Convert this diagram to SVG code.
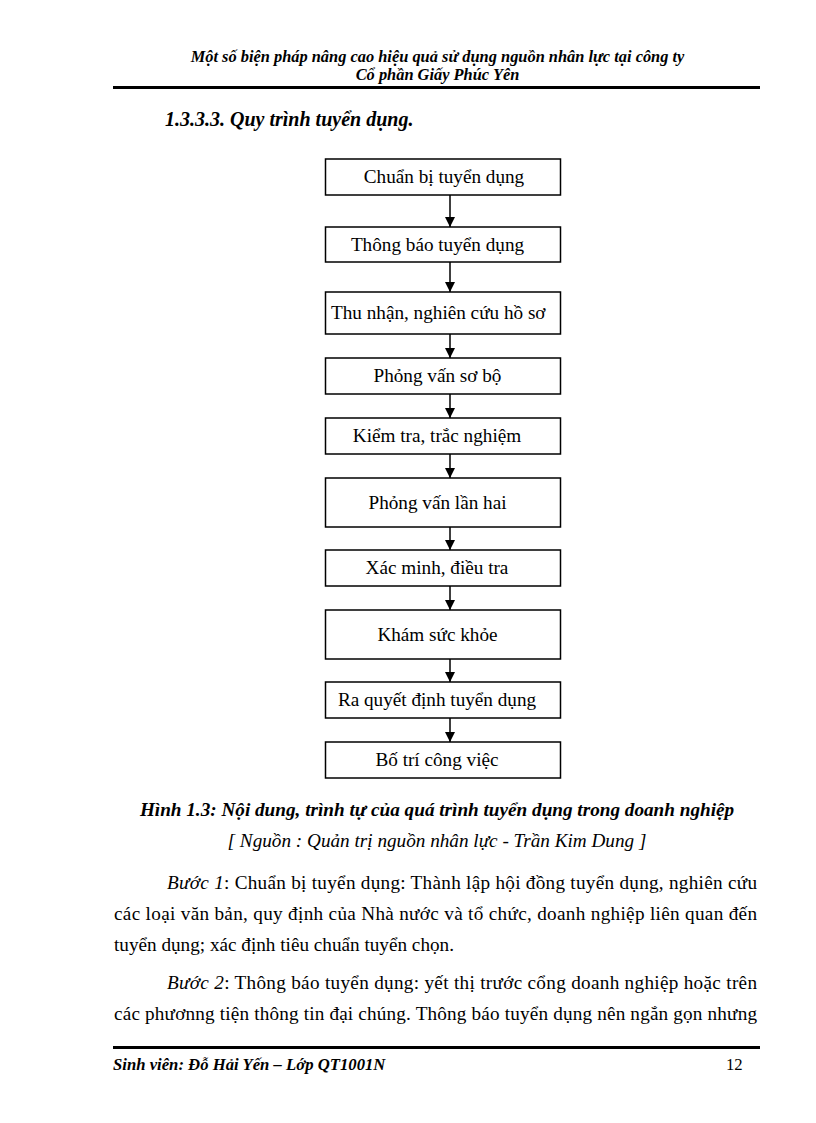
<svg xmlns="http://www.w3.org/2000/svg" width="816" height="1123" viewBox="0 0 816 1123">
<defs>
<style>
.t{font-family:"Liberation Serif","Times New Roman",serif;fill:#000}
.hdr{font-size:16.4px;font-weight:bold;font-style:italic}
.h{font-size:19.2px;font-weight:bold;font-style:italic}
.b{font-size:19.2px}
.i{font-style:italic}
.box{fill:#fff;stroke:#000;stroke-width:1.5}
.c{stroke:#000;stroke-width:1.5;fill:none}
.rule{stroke:#000;stroke-width:3}
</style>
<marker id="ah" viewBox="0 0 10 10" refX="10" refY="5" markerWidth="10" markerHeight="10" markerUnits="userSpaceOnUse" orient="auto">
<path d="M0,0 L10,5 L0,10 Z" fill="#000"/>
</marker>
</defs>
<rect width="816" height="1123" fill="#fff"/>
<!-- header -->
<text class="t hdr" x="437.5" y="62" text-anchor="middle">Một số biện pháp nâng cao hiệu quả sử dụng nguồn nhân lực tại công ty</text>
<text class="t hdr" x="437.5" y="80" text-anchor="middle">Cổ phần Giấy Phúc Yên</text>
<line class="rule" x1="113" y1="87.5" x2="760" y2="87.5"/>
<text class="t h" x="165" y="126" style="font-size:20px">1.3.3.3. Quy trình tuyển dụng.</text>

<!-- connectors -->
<g id="connectors">
<line class="c" x1="450" y1="195" x2="450" y2="227" marker-end="url(#ah)"/>
<line class="c" x1="450" y1="262" x2="450" y2="292" marker-end="url(#ah)"/>
<line class="c" x1="450" y1="334" x2="450" y2="358" marker-end="url(#ah)"/>
<line class="c" x1="450" y1="394" x2="450" y2="418" marker-end="url(#ah)"/>
<line class="c" x1="450" y1="454" x2="450" y2="478" marker-end="url(#ah)"/>
<line class="c" x1="450" y1="527" x2="450" y2="550" marker-end="url(#ah)"/>
<line class="c" x1="450" y1="586" x2="450" y2="610" marker-end="url(#ah)"/>
<line class="c" x1="450" y1="659" x2="450" y2="682" marker-end="url(#ah)"/>
<line class="c" x1="450" y1="718" x2="450" y2="742" marker-end="url(#ah)"/>
</g>

<!-- nodes -->
<g id="n1"><rect class="box" x="325.5" y="159" width="235" height="36"/><text class="t b" x="444" y="183" text-anchor="middle">Chuẩn bị tuyển dụng</text></g>
<g id="n2"><rect class="box" x="325.5" y="227" width="235" height="35"/><text class="t b" x="437.5" y="250.5" text-anchor="middle">Thông báo tuyển dụng</text></g>
<g id="n3"><rect class="box" x="325.5" y="292" width="235" height="42"/><text class="t b" x="331" y="319">Thu nhận, nghiên cứu hồ sơ</text></g>
<g id="n4"><rect class="box" x="325.5" y="358" width="235" height="36"/><text class="t b" x="437.5" y="382" text-anchor="middle">Phỏng vấn sơ bộ</text></g>
<g id="n5"><rect class="box" x="325.5" y="418" width="235" height="36"/><text class="t b" x="437" y="442" text-anchor="middle">Kiểm tra, trắc nghiệm</text></g>
<g id="n6"><rect class="box" x="325.5" y="478" width="235" height="49"/><text class="t b" x="437.5" y="508.5" text-anchor="middle">Phỏng vấn lần hai</text></g>
<g id="n7"><rect class="box" x="325.5" y="550" width="235" height="36"/><text class="t b" x="437" y="574" text-anchor="middle">Xác minh, điều tra</text></g>
<g id="n8"><rect class="box" x="325.5" y="610" width="235" height="49"/><text class="t b" x="437.5" y="640.5" text-anchor="middle">Khám sức khỏe</text></g>
<g id="n9"><rect class="box" x="325.5" y="682" width="235" height="36"/><text class="t b" x="437" y="706" text-anchor="middle">Ra quyết định tuyển dụng</text></g>
<g id="n10"><rect class="box" x="325.5" y="742" width="235" height="36"/><text class="t b" x="437" y="766" text-anchor="middle">Bố trí công việc</text></g>

<!-- caption -->
<text class="t h" x="437" y="816" text-anchor="middle">Hình 1.3: Nội dung, trình tự của quá trình tuyển dụng trong doanh nghiệp</text>
<text class="t b i" x="437" y="847" text-anchor="middle">[ Nguồn : Quản trị nguồn nhân lực - Trần Kim Dung ]</text>

<!-- body -->
<text class="t b" x="167" y="889" textLength="590" lengthAdjust="spacing"><tspan class="i">Bước 1</tspan>: Chuẩn bị tuyển dụng: Thành lập hội đồng tuyển dụng, nghiên cứu</text>
<text class="t b" x="114" y="920" textLength="643" lengthAdjust="spacing">các loại văn bản, quy định của Nhà nước và tổ chức, doanh nghiệp liên quan đến</text>
<text class="t b" x="114" y="951">tuyển dụng; xác định tiêu chuẩn tuyển chọn.</text>
<text class="t b" x="167" y="989" textLength="590" lengthAdjust="spacing"><tspan class="i">Bước 2</tspan>: Thông báo tuyển dụng: yết thị trước cổng doanh nghiệp hoặc trên</text>
<text class="t b" x="114" y="1020" textLength="643" lengthAdjust="spacing">các phươnng tiện thông tin đại chúng. Thông báo tuyển dụng nên ngắn gọn nhưng</text>

<!-- footer -->
<line class="rule" x1="113" y1="1047.5" x2="760" y2="1047.5"/>
<text class="t hdr" x="113" y="1070" style="font-size:16.7px">Sinh viên: Đỗ Hải Yến – Lớp QT1001N</text>
<text class="t" x="726" y="1070" style="font-size:16.7px">12</text>
</svg>
